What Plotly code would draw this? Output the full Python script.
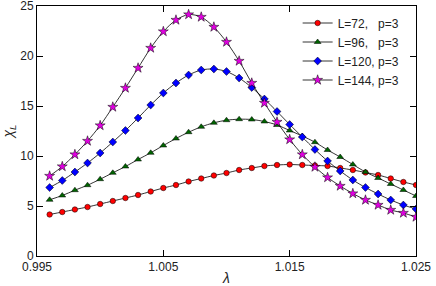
import plotly.graph_objects as go

lam = [0.996, 0.997, 0.998, 0.999, 1.000, 1.001, 1.002, 1.003, 1.004, 1.005,
       1.006, 1.007, 1.008, 1.009, 1.010, 1.011, 1.012, 1.013, 1.014, 1.015,
       1.016, 1.017, 1.018, 1.019, 1.020, 1.021, 1.022, 1.023, 1.024, 1.025]

chi_L72 = [4.15, 4.4, 4.65, 4.9, 5.2, 5.5, 5.8, 6.1, 6.45, 6.8,
           7.1, 7.45, 7.75, 8.05, 8.3, 8.6, 8.8, 9.0, 9.1, 9.15,
           9.1, 9.05, 9.0, 8.8, 8.6, 8.35, 8.1, 7.75, 7.4, 7.1]

chi_L96 = [5.62, 6.05, 6.58, 7.08, 7.68, 8.32, 8.95, 9.65, 10.32, 11.05,
           11.75, 12.38, 12.92, 13.32, 13.58, 13.68, 13.65, 13.45, 13.1, 12.55,
           12.0, 11.38, 10.6, 9.9, 9.15, 8.4, 7.8, 7.2, 6.6, 6.0]

chi_L120 = [6.85, 7.55, 8.4, 9.3, 10.3, 11.4, 12.55, 13.8, 15.1, 16.3,
            17.3, 18.1, 18.6, 18.7, 18.45, 17.8, 16.85, 15.7, 14.45, 13.15,
            11.9, 10.65, 9.5, 8.5, 7.6, 6.85, 6.2, 5.6, 5.1, 4.7]

chi_L144 = [8.0, 8.95, 10.15, 11.5, 13.05, 14.9, 16.8, 18.8, 20.8, 22.45,
            23.6, 24.15, 23.9, 22.9, 21.4, 19.5, 17.3, 15.3, 13.4, 11.65,
            10.15, 8.9, 7.85, 7.0, 6.25, 5.6, 5.1, 4.6, 4.3, 3.9]

series_names = ["L=72,   p=3", "L=96,   p=3", "L=120, p=3", "L=144, p=3"]
series_vals = [chi_L72, chi_L96, chi_L120, chi_L144]
colors = ["#ff0000", "#006400", "#0000ff", "#e000e0"]
symbols = ["circle", "triangle-up", "diamond", "star"]
sizes = [5.5, 6, 6, 7.5]

x_tickvals = [0.995, 1.005, 1.015, 1.025]
x_ticktext = ["0.995", "1.005", "1.015", "1.025"]
y_tickvals = [0, 5, 10, 15, 20, 25]

fig = go.Figure()
for name, vals, c, s, sz in zip(series_names, series_vals, colors, symbols, sizes):
    fig.add_trace(go.Scatter(
        x=lam, y=vals, name=name, mode="lines+markers",
        line=dict(color="black", width=0.8, shape="spline", smoothing=0.8),
        marker=dict(symbol=s, size=sz, color=c, line=dict(color="black", width=0.5)),
    ))

font_family = "Liberation Sans, Arial, sans-serif"
fig.update_layout(
    template="none",
    width=436, height=286,
    margin=dict(l=37, r=20, t=6, b=30),
    paper_bgcolor="white", plot_bgcolor="white",
    font=dict(family=font_family, size=12, color="#222222"),
    showlegend=True,
    legend=dict(
        x=0.97, xanchor="right", y=0.99, yanchor="top",
        bgcolor="rgba(0,0,0,0)", borderwidth=0,
        font=dict(size=12), itemwidth=30, tracegroupgap=0,
    ),
    xaxis=dict(
        range=[0.995, 1.025], tickvals=x_tickvals, ticktext=x_ticktext,
        showline=True, linecolor="black", linewidth=1, mirror="ticks",
        ticks="inside", ticklen=6, tickcolor="black", showgrid=False, zeroline=False,
        automargin=False, ticklabeloverflow="allow",
        title=dict(text="<i>λ</i>", font=dict(size=14)),
    ),
    yaxis=dict(
        range=[0, 25], tickvals=y_tickvals,
        showline=True, linecolor="black", linewidth=1, mirror="ticks",
        ticks="inside", ticklen=6, tickcolor="black", showgrid=False, zeroline=False,
        automargin=False, ticklabeloverflow="allow",
        title=dict(text="<i>χ<sub>L</sub></i>", font=dict(size=14)),
    ),
)

fig.write_html(
    "out.html",
    config={"displayModeBar": False},
    post_script="document.body.style.margin='0';document.body.style.padding='0';",
)
